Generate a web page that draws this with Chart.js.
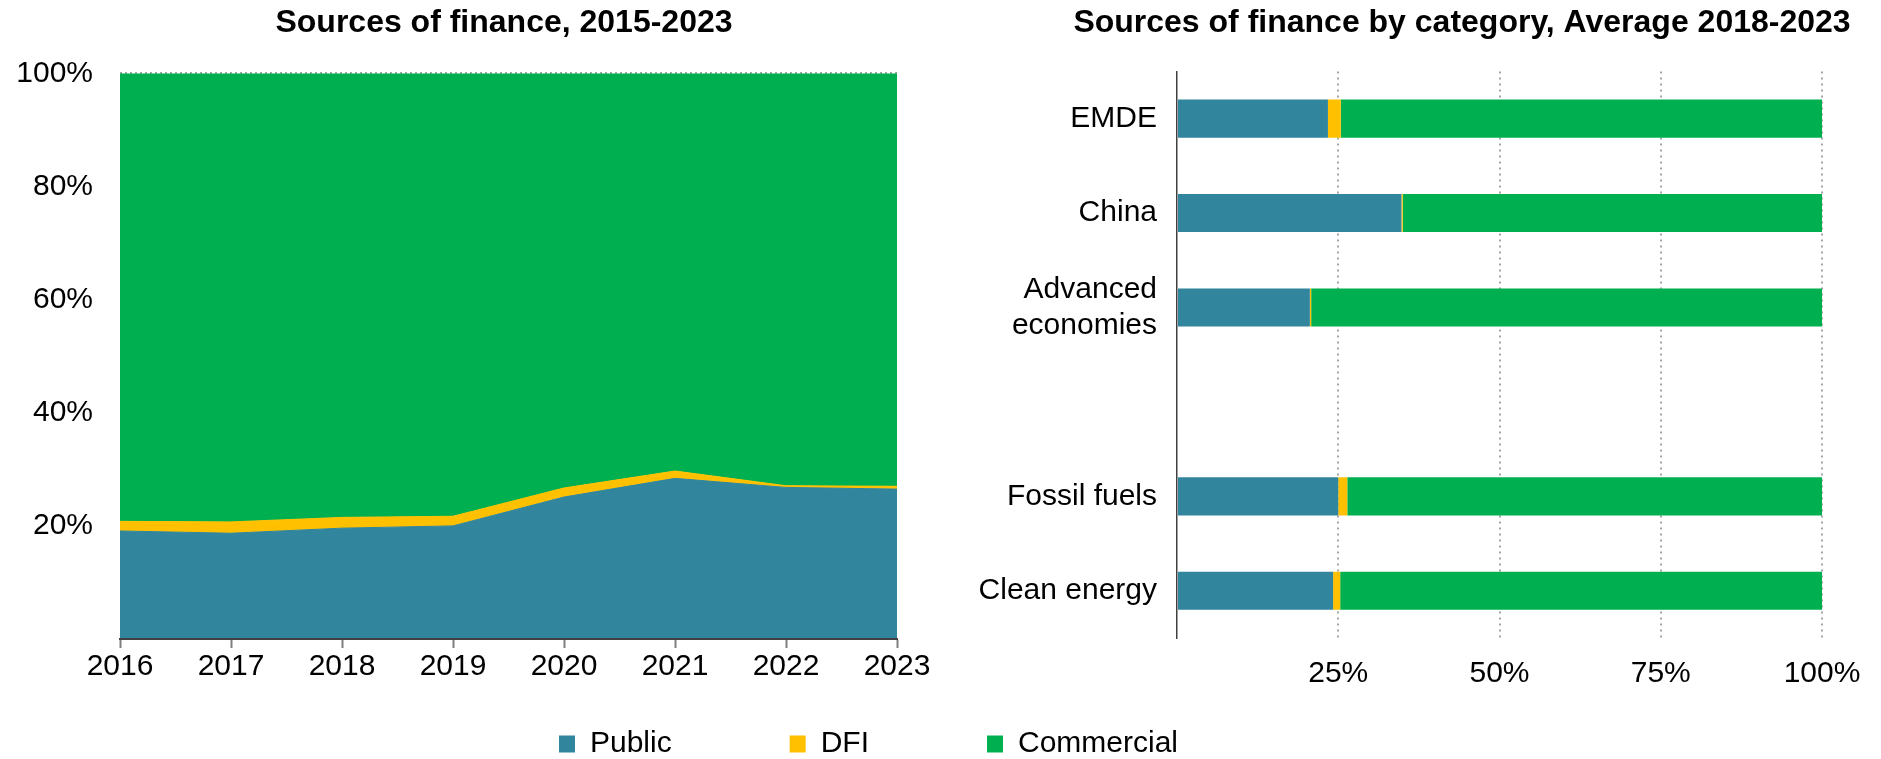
<!DOCTYPE html>
<html>
<head>
<meta charset="utf-8">
<title>Sources of finance</title>
<script src="https://cdn.jsdelivr.net/npm/chart.js@4.4.1/dist/chart.umd.min.js"></script>
<style>
  html, body { margin: 0; padding: 0; background: #fff; }
  #page { position: relative; width: 1881px; height: 759px; overflow: hidden; }
  .box { position: absolute; }
  #leftBox { left: 0; top: 0; width: 940px; height: 700px; }
  #rightBox { left: 940px; top: 0; width: 941px; height: 700px; }
  #legendBox { left: 0; top: 611px; width: 1737px; height: 330px; }
</style>
</head>
<body>
<div id="page">
  <div class="box" id="leftBox"><canvas id="areaChart"></canvas></div>
  <div class="box" id="rightBox"><canvas id="barChart"></canvas></div>
  <div class="box" id="legendBox"><canvas id="legendChart"></canvas></div>
</div>
<script>
// left panel: share of finance by source, per year (%)
const years = ['2016', '2017', '2018', '2019', '2020', '2021', '2022', '2023'];
const publicShare = [19.1, 18.7, 19.6, 20.0, 25.1, 28.4, 26.8, 26.5];
const dfiShare = [1.7, 2.0, 1.9, 1.7, 1.6, 1.3, 0.3, 0.5];
const commercialShare = [79.2, 79.3, 78.5, 78.3, 73.3, 70.3, 72.9, 73.0];
const areaTicks = [0, 20, 40, 60, 80, 100];

// right panel: average 2018-2023 by category (%), blank row is a spacer
const categories = ['EMDE', 'China', ['Advanced', 'economies'], '', 'Fossil fuels', 'Clean energy'];
const catPublic = [23.4, 34.8, 20.6, null, 25.0, 24.2];
const catDfi = [2.0, 0.2, 0.2, null, 1.4, 1.1];
const catCommercial = [74.6, 65.0, 79.2, null, 73.6, 74.7];
const barTicks = [0, 25, 50, 75, 100];

const TEAL = '#31859C';
const YELLOW = '#FFC000';
const GREEN = '#00B050';

Chart.defaults.font.family = '"Liberation Sans", Arial, sans-serif';
Chart.defaults.font.size = 30;
Chart.defaults.color = '#000';

const pct = v => (v === 0 ? '' : v + '%');

// negative right padding only widens the (full size) title box so it can sit
// off-centre like the original; the plot's right edge comes from the x axis padding
new Chart(document.getElementById('areaChart'), {
    type: 'line',
    data: {
        labels: years,
        datasets: [
            { label: 'Public', data: publicShare, backgroundColor: TEAL, borderColor: TEAL, fill: 'origin' },
            { label: 'DFI', data: dfiShare, backgroundColor: YELLOW, borderColor: YELLOW, fill: '-1' },
            { label: 'Commercial', data: commercialShare, backgroundColor: GREEN, borderColor: GREEN, fill: '-1' },
        ],
    },
    options: {
        responsive: true,
        maintainAspectRatio: false,
        animation: false,
        events: [],
        elements: {
            point: { radius: 0 },
            line: { borderWidth: 1, tension: 0 },
        },
        layout: { padding: { left: 0, right: -68, top: 0, bottom: 0 } },
        plugins: {
            legend: { display: false },
            tooltip: { enabled: false },
            title: {
                display: true,
                text: 'Sources of finance, 2015-2023',
                color: '#000',
                font: { size: 32, weight: 'bold' },
                padding: { top: 4, bottom: 31 },
            },
        },
        scales: {
            x: {
                grid: { drawOnChartArea: false, tickLength: 9, tickColor: '#7f7f7f', tickWidth: 2 },
                border: { color: '#404040', width: 2, z: 1 },
                ticks: { padding: 1, maxRotation: 0, autoSkip: false },
                afterFit: s => { s.height = 61; s.paddingRight = 43; },
            },
            y: {
                stacked: true,
                min: 0,
                max: 100,
                afterBuildTicks: s => { s.ticks = areaTicks.map(v => ({ value: v })); },
                ticks: { padding: 27, callback: pct },
                grid: { drawTicks: false, color: '#a6a6a6', lineWidth: 2 },
                border: { display: false, dash: [2, 3] },
                afterFit: s => { s.width = 120; },
            },
        },
    },
});

new Chart(document.getElementById('barChart'), {
    type: 'bar',
    data: {
        labels: categories,
        datasets: [
            { label: 'Public', data: catPublic, backgroundColor: TEAL },
            { label: 'DFI', data: catDfi, backgroundColor: YELLOW },
            { label: 'Commercial', data: catCommercial, backgroundColor: GREEN },
        ],
    },
    options: {
        indexAxis: 'y',
        responsive: true,
        maintainAspectRatio: false,
        animation: false,
        events: [],
        datasets: { bar: { barPercentage: 0.403, categoryPercentage: 1, borderWidth: 0 } },
        layout: { padding: { left: 0, right: -103, top: 0, bottom: 0 } },
        plugins: {
            legend: { display: false },
            tooltip: { enabled: false },
            title: {
                display: true,
                text: 'Sources of finance by category, Average 2018-2023',
                color: '#000',
                font: { size: 32, weight: 'bold' },
                padding: { top: 4, bottom: 29 },
            },
        },
        scales: {
            x: {
                stacked: true,
                min: 0,
                max: 100,
                afterBuildTicks: s => { s.ticks = barTicks.map(v => ({ value: v })); },
                ticks: { padding: 18, callback: pct },
                grid: {
                    drawTicks: false,
                    lineWidth: 2,
                    color: ctx => (ctx.tick && ctx.tick.value === 0 ? 'rgba(0,0,0,0)' : '#a6a6a6'),
                },
                border: { display: false, dash: [2, 4] },
                afterFit: s => { s.height = 62; s.paddingRight = 59; },
            },
            y: {
                stacked: true,
                grid: { display: false, drawTicks: false },
                border: { display: true, color: '#404040', width: 1.5 },
                ticks: { padding: 20, autoSkip: false },
                afterFit: s => { s.width = 237; },
            },
        },
    },
});

// shared legend under both panels
new Chart(document.getElementById('legendChart'), {
    type: 'bar',
    data: {
        labels: [],
        datasets: [
            { label: 'Public', data: [], backgroundColor: TEAL, borderWidth: 0 },
            { label: 'DFI', data: [], backgroundColor: YELLOW, borderWidth: 0 },
            { label: 'Commercial', data: [], backgroundColor: GREEN, borderWidth: 0 },
        ],
    },
    options: {
        responsive: true,
        maintainAspectRatio: false,
        animation: false,
        events: [],
        layout: { padding: 0 },
        scales: { x: { display: false }, y: { display: false } },
        plugins: {
            tooltip: { enabled: false },
            legend: {
                display: true,
                position: 'top',
                labels: { boxWidth: 16, boxHeight: 17, padding: 118, color: '#000', font: { size: 30 } },
            },
        },
    },
});
</script>
</body>
</html>
